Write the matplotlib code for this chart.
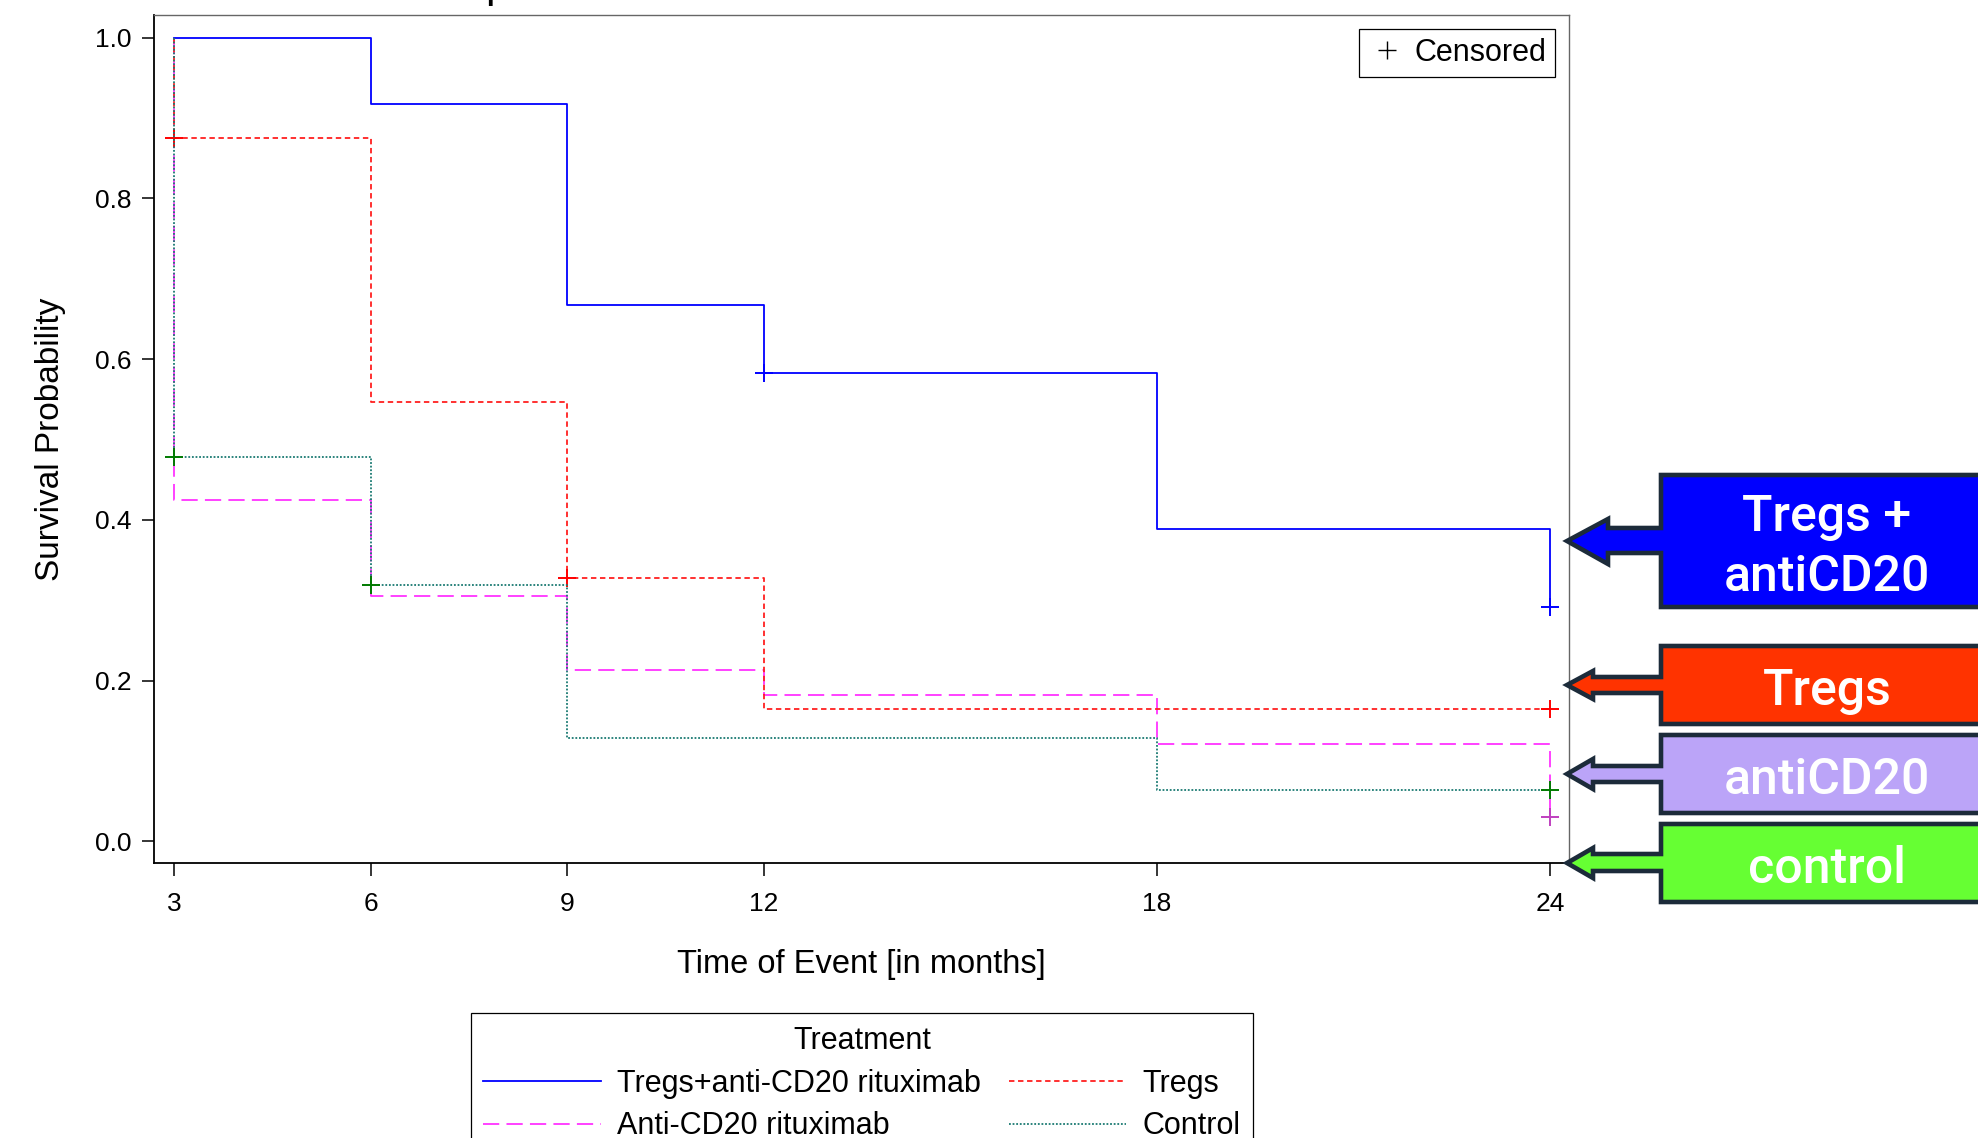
import matplotlib
matplotlib.use("Agg")
import matplotlib.pyplot as plt
from matplotlib.patches import Polygon
from matplotlib.lines import Line2D

W, H = 1978, 1138

# --- data (step curves) ---
combo_t = [3, 6, 9, 12, 18, 24]
combo_s = [1.0, 0.917, 0.667, 0.583, 0.389, 0.292]
combo_cens_t = [12, 24]
combo_cens_s = [0.583, 0.292]

tregs_t = [3, 3, 6, 9, 12, 24]
tregs_s = [1.0, 0.875, 0.547, 0.328, 0.165, 0.165]
tregs_cens_t = [3, 9, 24]
tregs_cens_s = [0.875, 0.328, 0.165]

anti_t = [3, 3, 6, 9, 12, 18, 24]
anti_s = [1.0, 0.424, 0.305, 0.213, 0.182, 0.121, 0.030]
anti_cens_t = [24]
anti_cens_s = [0.030]

ctrl_t = [3, 3, 6, 9, 18, 24]
ctrl_s = [1.0, 0.478, 0.319, 0.129, 0.064, 0.064]
ctrl_cens_t = [3, 6, 24]
ctrl_cens_s = [0.478, 0.319, 0.064]

x_ticks = [3, 6, 9, 12, 18, 24]
y_ticks = [0.0, 0.2, 0.4, 0.6, 0.8, 1.0]

callout_labels = ["Tregs +\nantiCD20", "Tregs", "antiCD20", "control"]
callout_colors = ["#0000ff", "#ff3300", "#bba4f8", "#66ff33"]

plt.rcParams["font.family"] = ["Liberation Sans", "DejaVu Sans"]

fig = plt.figure(figsize=(W / 100, H / 100), dpi=100)
ax = fig.add_axes([154 / W, 1 - 863 / H, (1569 - 154) / W, (863 - 15) / H])

series = [
    (combo_t, combo_s, combo_cens_t, combo_cens_s, "#0000ff", "#0000ff", "-", "Tregs+anti-CD20 rituximab"),
    (anti_t, anti_s, anti_cens_t, anti_cens_s, "#ff33ff", "#bf3fbf", (0, (9, 4)), "Anti-CD20 rituximab"),
    (tregs_t, tregs_s, tregs_cens_t, tregs_cens_s, "#ff2020", "#ff0000", (0, (3, 2)), "Tregs"),
    (ctrl_t, ctrl_s, ctrl_cens_t, ctrl_cens_s, "#1a7a72", "#007a00", (0, (1, 1)), "Control"),
]

handles = []
for t, s, ct, cs, col, mcol, ls, lab in series:
    h, = ax.step(t, s, where="post", color=col, linestyle=ls, linewidth=1.3, label=lab)
    ax.plot(ct, cs, linestyle="none", marker="+", markersize=13, markeredgewidth=1.4, color=mcol)
    handles.append(h)

ax.set_xlim(2.69, 24.29)
ax.set_ylim(-0.027, 1.028)
ax.set_xticks(x_ticks)
ax.set_yticks(y_ticks)
ax.set_yticklabels([f"{v:.1f}" for v in y_ticks])
ax.tick_params(direction="out", length=9, width=1.1, labelsize=19)
ax.tick_params(axis="x", pad=12)
ax.tick_params(axis="y", pad=7)
for side in ["top", "right"]:
    ax.spines[side].set_color("#666666")
    ax.spines[side].set_linewidth(1.0)
for side in ["left", "bottom"]:
    ax.spines[side].set_linewidth(1.3)

ax.set_ylabel("Survival Probability", fontsize=24, labelpad=21)
ax.set_xlabel("Time of Event [in months]", fontsize=23.5, labelpad=24)

# censored legend inside the plot
cens_handle = Line2D([], [], linestyle="none", marker="+", color="black",
                     markersize=13, markeredgewidth=1.0)
leg1 = ax.legend([cens_handle], ["Censored"], loc="upper right", fancybox=False,
                 edgecolor="black", framealpha=1, prop={"size": 22},
                 borderpad=0.3, handletextpad=0.3, borderaxespad=0.45, handlelength=1.2)
leg1.get_frame().set_linewidth(0.9)

# treatment legend below, partly cut by the figure edge
leg2 = fig.legend(handles, [h.get_label() for h in handles], ncol=2, title="Treatment",
                  loc="upper center", bbox_to_anchor=(862 / W, 1 - 1013 / H),
                  fancybox=False, edgecolor="black", framealpha=1,
                  prop={"size": 22}, title_fontproperties={"size": 22},
                  handlelength=3.85, columnspacing=0.9, labelspacing=0.42, borderpad=0.42,
                  handletextpad=0.53, borderaxespad=0)
leg2.get_frame().set_linewidth(0.9)

# faint remnant of the cropped title
fig.text(495 / W, 1.0, "p", ha="center", va="baseline", fontsize=20, fontweight="bold")


def px(x, y):
    return (x / W, 1 - y / H)


# right-hand arrow callouts (pixel geometry)
boxes = [  # top, bottom, shaft top, shaft bottom, head top, head bottom, head base x, tip y
    (475, 607, 528, 553, 519, 564, 1608, 541),
    (646, 724, 677, 693, 671, 699, 1593, 685),
    (735, 813, 766, 782, 759, 789, 1593, 774),
    (824, 902, 854, 871, 848, 878, 1593, 863),
]
box_left, box_right, tip_x = 1661, 2000, 1567
for (yt, yb, s1, s2, h1, h2, hb, ty), lab, col in zip(boxes, callout_labels, callout_colors):
    pts = [(box_left, yt), (box_right, yt), (box_right, yb), (box_left, yb), (box_left, s2),
           (hb, s2), (hb, h2), (tip_x, ty), (hb, h1), (hb, s1), (box_left, s1)]
    poly = Polygon([px(x, y) for x, y in pts], closed=True, transform=fig.transFigure,
                   facecolor=col, edgecolor="#1c2b3a", linewidth=3.3, joinstyle="miter",
                   clip_on=False)
    fig.patches.append(poly)
    cx, cy = px(1827, (yt + yb) / 2 + 6)
    fig.text(cx, cy, lab, ha="center", va="center", color="white", fontsize=36,
             family=["Roboto", "DejaVu Sans"], fontweight="medium", linespacing=1.3)

fig.savefig("out.png", dpi=100)
